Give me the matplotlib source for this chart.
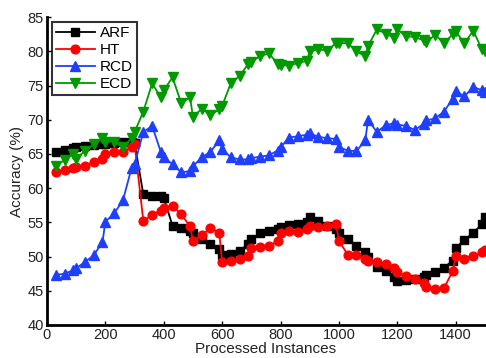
import matplotlib
matplotlib.use("Agg")
import matplotlib.pyplot as plt

instances = [30, 60, 90, 100, 130, 160, 190, 200, 230, 260, 290, 300,
             330, 360, 390, 400, 430, 460, 490, 500, 530, 560, 590, 600,
             630, 660, 690, 700, 730, 760, 790, 800, 830, 860, 890, 900,
             930, 960, 990, 1000, 1030, 1060, 1090, 1100, 1130, 1160, 1190, 1200,
             1230, 1260, 1290, 1300, 1330, 1360, 1390, 1400, 1430, 1460, 1490, 1500]

arf = [65.3, 65.6, 65.9, 66.0, 66.2, 66.3, 66.4, 66.5, 66.6, 66.7, 66.7, 66.6,
       59.1, 58.8, 58.8, 58.6, 54.5, 54.2, 53.7, 53.4, 52.5, 51.9, 51.1, 50.2,
       50.4, 50.8, 51.9, 52.5, 53.5, 53.7, 54.0, 54.3, 54.6, 54.7, 55.0, 55.8,
       55.2, 54.4, 54.0, 53.4, 52.5, 51.5, 50.6, 50.0, 48.5, 47.9, 47.0, 46.5,
       46.6, 46.7, 47.0, 47.3, 47.8, 48.4, 49.4, 51.3, 52.4, 53.5, 54.7, 55.8]

ht = [62.4, 62.6, 63.0, 63.1, 63.3, 63.8, 64.3, 65.0, 65.3, 65.3, 66.0, 66.5,
      55.2, 56.1, 56.7, 57.1, 57.4, 56.2, 54.4, 52.3, 53.1, 54.2, 53.5, 49.2,
      49.3, 49.7, 50.1, 51.2, 51.4, 51.5, 52.3, 53.4, 53.8, 53.6, 54.1, 54.5,
      54.3, 54.4, 54.8, 52.3, 50.3, 50.2, 49.6, 49.4, 49.2, 48.9, 48.3, 47.8,
      47.1, 46.7, 46.2, 45.5, 45.2, 45.4, 47.9, 50.1, 49.7, 50.1, 50.6, 51.0]

rcd = [47.3, 47.5, 48.0, 48.3, 49.2, 50.2, 52.1, 55.1, 56.3, 58.2, 63.0, 63.5,
       68.2, 69.1, 65.3, 64.5, 63.5, 62.3, 62.5, 63.2, 64.5, 65.3, 67.0, 65.7,
       64.5, 64.2, 64.2, 64.4, 64.6, 64.8, 65.5, 66.0, 67.4, 67.6, 67.8, 68.0,
       67.5, 67.3, 67.2, 66.0, 65.5, 65.4, 67.0, 70.0, 68.2, 69.2, 69.5, 69.3,
       69.1, 68.5, 69.4, 69.9, 70.2, 71.2, 73.1, 74.2, 73.4, 74.8, 74.3, 74.0]

ecd = [63.3, 64.1, 65.0, 64.2, 65.5, 66.4, 67.3, 66.8, 66.8, 66.0, 67.3, 68.2,
       71.2, 75.3, 73.3, 74.3, 76.2, 72.4, 73.3, 70.4, 71.6, 70.7, 71.5, 72.0,
       75.4, 76.4, 78.2, 78.5, 79.3, 79.7, 78.2, 78.0, 77.9, 78.3, 78.6, 80.0,
       80.3, 80.1, 81.2, 81.2, 81.2, 80.0, 79.3, 80.8, 83.2, 82.6, 82.0, 83.2,
       82.2, 82.1, 81.6, 81.4, 82.4, 81.2, 82.5, 82.9, 81.2, 83.0, 80.3, 80.0]

plt.rcParams['font.family'] = ['Liberation Sans', 'DejaVu Sans']

fig = plt.figure(figsize=(4.86, 3.58), dpi=100)
ax = fig.add_axes([0.0967, 0.0922, 0.901, 0.860])

ax.plot(instances, arf, color='black', marker='s', markersize=5.3, lw=1.3, label='ARF')
ax.plot(instances, ht, color='#ff0000', marker='o', markersize=6.3, lw=1.3, label='HT')
ax.plot(instances, rcd, color='#1f3fff', marker='^', markersize=6.8, lw=1.3, label='RCD')
ax.plot(instances, ecd, color='#009900', marker='v', markersize=6.8, lw=1.3, label='ECD')

ax.set_xlim(0, 1500)
ax.set_ylim(40, 85)
ax.set_xticks([0, 200, 400, 600, 800, 1000, 1200, 1400])
ax.set_yticks([40, 45, 50, 55, 60, 65, 70, 75, 80, 85])
ax.spines['top'].set_visible(False)
ax.spines['right'].set_visible(False)
ax.spines['left'].set_linewidth(2)
ax.spines['bottom'].set_linewidth(2)
ax.tick_params(direction='in', length=3, width=1, labelsize=10.5, colors='black')
ax.tick_params(axis='x', pad=2)
ax.tick_params(axis='y', pad=2.5)
for lab in ax.get_xticklabels() + ax.get_yticklabels():
    lab.set_color('#222222')

ax.set_xlabel('Processed Instances', fontsize=11, labelpad=0.5, color='#222222')
ax.set_ylabel('Accuracy (%)', fontsize=11, labelpad=2, color='#222222')

leg = ax.legend(loc='upper left', bbox_to_anchor=(0.011, 0.984), borderaxespad=0,
                fontsize=11, handlelength=2.6, labelspacing=0.2, handletextpad=0.3,
                borderpad=0.25, frameon=True, fancybox=False, edgecolor='black')
leg.get_frame().set_linewidth(1.5)

fig.savefig('out.png', dpi=100)
